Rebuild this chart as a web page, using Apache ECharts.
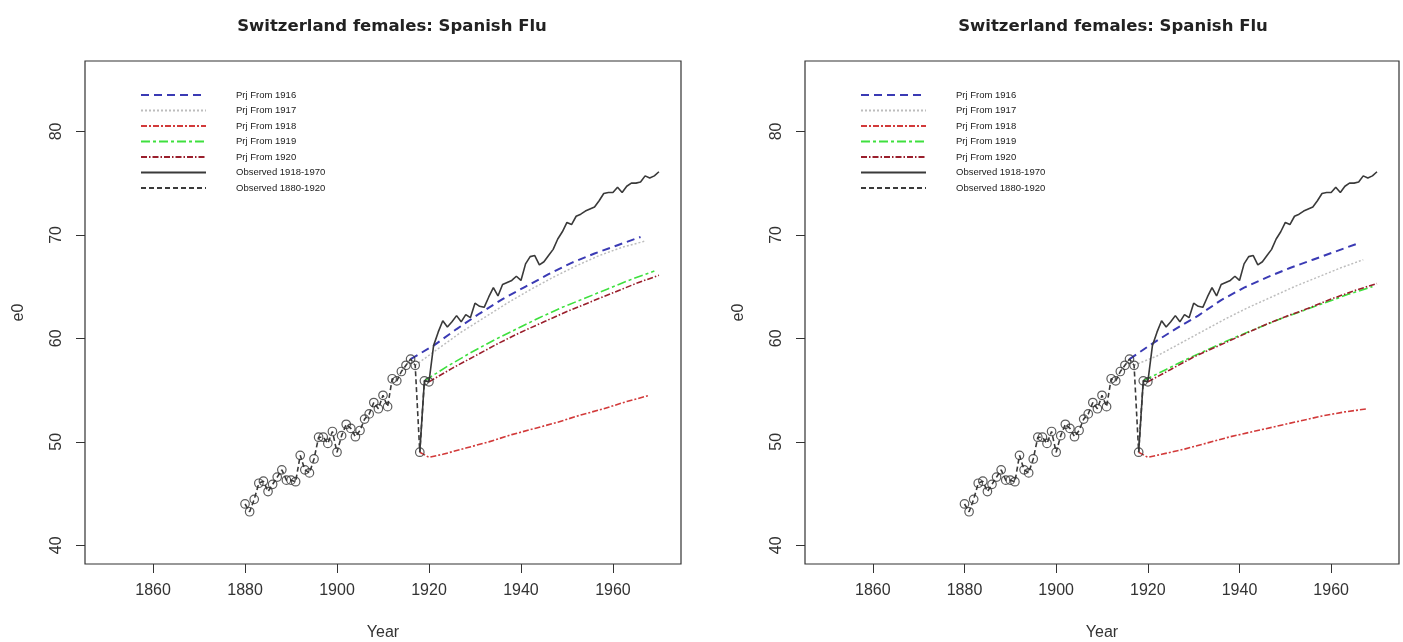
<!DOCTYPE html>
<html>
<head>
<meta charset="utf-8">
<script src="https://cdn.jsdelivr.net/npm/echarts@6/dist/echarts.min.js"></script>
<style>
  html, body { margin: 0; padding: 0; background: #ffffff; }
  #chart { width: 1403px; height: 642px; }
</style>
</head>
<body>
<div id="chart"></div>
<script>
// ---- data -------------------------------------------------------------
const chartTitle = 'Switzerland females: Spanish Flu';
const xTicks = [1860, 1880, 1900, 1920, 1940, 1960];
const yTicks = [40, 50, 60, 70, 80];
const legendNames = ['Prj From 1916', 'Prj From 1917', 'Prj From 1918', 'Prj From 1919',
                     'Prj From 1920', 'Observed 1918-1970', 'Observed 1880-1920'];

// observed female life expectancy at birth, 1880-1920
const obsEarlyStart = 1880;
const obsEarly = [44.0, 43.25, 44.45, 46.0, 46.2, 45.2, 45.9, 46.6, 47.3, 46.3,
                  46.3, 46.15, 48.7, 47.3, 47.0, 48.35, 50.45, 50.45, 49.85, 51.0,
                  49.0, 50.6, 51.7, 51.3, 50.5, 51.1, 52.2, 52.7, 53.8, 53.2,
                  54.5, 53.4, 56.1, 55.9, 56.8, 57.4, 58.0, 57.4, 49.0, 55.9,
                  55.8];
// observed female life expectancy at birth, 1918-1970
const obsLateStart = 1918;
const obsLate = [49.0, 55.9, 55.8, 59.3, 60.6, 61.7, 61.1, 61.6, 62.2, 61.6,
                 62.3, 62.0, 63.4, 63.1, 63.0, 64.0, 64.9, 64.1, 65.2, 65.4,
                 65.6, 66.0, 65.6, 67.2, 67.9, 68.0, 67.1, 67.4, 68.0, 68.6,
                 69.6, 70.3, 71.2, 71.0, 71.8, 72.0, 72.3, 72.5, 72.7, 73.3,
                 74.0, 74.1, 74.1, 74.6, 74.1, 74.7, 75.0, 75.0, 75.1, 75.7,
                 75.5, 75.7, 76.1];

// projection years
const prjYears1916 = [1916, 1921, 1926, 1931, 1936, 1941, 1946, 1951, 1956, 1961, 1966];
const prjYears1917 = [1917, 1922, 1927, 1932, 1937, 1942, 1947, 1952, 1957, 1962, 1967];
const prjYears1918 = [1918, 1920, 1923, 1928, 1933, 1938, 1943, 1948, 1953, 1958, 1963, 1968];
const prjYears1919 = [1919, 1924, 1929, 1934, 1939, 1944, 1949, 1954, 1959, 1964, 1969];
const prjYears1920 = [1920, 1925, 1930, 1935, 1940, 1945, 1950, 1955, 1960, 1965, 1970];

// first panel projections
const leftPrj1916 = [58.0, 59.3, 60.9, 62.4, 63.8, 65.0, 66.2, 67.3, 68.2, 69.0, 69.8];
const leftPrj1917 = [57.4, 59.0, 60.6, 62.0, 63.4, 64.7, 65.9, 67.0, 68.0, 68.8, 69.4];
const leftPrj1918 = [49.0, 48.5, 48.8, 49.4, 50.0, 50.7, 51.3, 51.9, 52.6, 53.2, 53.9, 54.5];
const leftPrj1919 = [55.9, 57.3, 58.6, 59.8, 60.9, 62.0, 63.0, 63.9, 64.8, 65.7, 66.5];
const leftPrj1920 = [55.8, 57.1, 58.3, 59.5, 60.6, 61.6, 62.6, 63.5, 64.4, 65.3, 66.1];

// second panel projections
const rightPrj1916 = [58.0, 59.5, 60.9, 62.2, 63.7, 64.9, 65.9, 66.8, 67.6, 68.4, 69.2];
const rightPrj1917 = [57.4, 58.3, 59.5, 60.7, 61.9, 63.0, 64.0, 65.0, 65.9, 66.8, 67.6];
const rightPrj1918 = [49.0, 48.5, 48.8, 49.3, 49.9, 50.5, 51.0, 51.5, 52.0, 52.5, 52.9, 53.2];
const rightPrj1919 = [55.9, 57.0, 58.1, 59.1, 60.1, 61.0, 61.9, 62.7, 63.5, 64.3, 65.0];
const rightPrj1920 = [55.8, 57.0, 58.2, 59.2, 60.2, 61.2, 62.1, 62.9, 63.8, 64.6, 65.3];

// ---- helpers ----------------------------------------------------------
const pairs = (years, vals) => vals.map((v, i) => [years[i], v]);
const fromStart = (start, vals) => vals.map((v, i) => [start + i, v]);

const AXIS_FONT = 'Liberation Sans, Arial, sans-serif';
const INK = '#333333';

const lineDefs = [
  { name: legendNames[0], color: '#3a3ab4', type: [8, 5], width: 2 },
  { name: legendNames[1], color: '#bdbdbd', type: [2, 2], width: 1.5 },
  { name: legendNames[2], color: '#d23a3a', type: [6, 2, 2, 2], width: 1.6 },
  { name: legendNames[3], color: '#3ee03e', type: [9, 3, 3, 3], width: 1.6 },
  { name: legendNames[4], color: '#9a1f2c', type: [6, 2, 1.5, 2], width: 1.6 }
];

function panelSeries(idx, prj) {
  const out = [];
  const yearsList = [prjYears1916, prjYears1917, prjYears1918, prjYears1919, prjYears1920];
  lineDefs.forEach((d, k) => {
    out.push({
      name: d.name, type: 'line', xAxisIndex: idx, yAxisIndex: idx,
      data: pairs(yearsList[k], prj[k]), showSymbol: false, symbol: 'none',
      lineStyle: { color: d.color, width: d.width, type: d.type },
      itemStyle: { color: d.color }, z: 3
    });
  });
  out.push({
    name: legendNames[5], type: 'line', xAxisIndex: idx, yAxisIndex: idx,
    data: fromStart(obsLateStart, obsLate), showSymbol: false, symbol: 'none',
    lineStyle: { color: '#3a3a3a', width: 1.6, type: 'solid' },
    itemStyle: { color: '#3a3a3a' }, z: 4
  });
  out.push({
    name: legendNames[6], type: 'line', xAxisIndex: idx, yAxisIndex: idx,
    data: fromStart(obsEarlyStart, obsEarly), showSymbol: false, symbol: 'none',
    lineStyle: { color: '#3a3a3a', width: 1.6, type: [5, 3] },
    itemStyle: { color: '#3a3a3a' }, z: 4
  });
  // open circle markers on the 1880-1920 observations
  out.push({
    name: 'obs-points-' + idx, type: 'scatter', xAxisIndex: idx, yAxisIndex: idx,
    data: fromStart(obsEarlyStart, obsEarly), symbol: 'circle', symbolSize: 8.5,
    itemStyle: { color: 'rgba(255,255,255,0)', borderColor: '#333333', borderWidth: 1.2 },
    z: 5
  });
  return out;
}

const grids = [
  { left: 85, top: 61, width: 596, height: 503 },
  { left: 805, top: 61, width: 594, height: 503 }
];

function xAxisFor(i) {
  return {
    gridIndex: i, type: 'value', min: 1845.2, max: 1974.8,
    name: 'Year', nameLocation: 'middle', nameGap: 61,
    nameTextStyle: { color: INK, fontSize: 16, fontFamily: AXIS_FONT },
    axisLine: { show: false },
    axisTick: { show: true, inside: false, length: 9, customValues: xTicks,
                lineStyle: { color: INK, width: 1 } },
    axisLabel: { customValues: xTicks, color: INK, fontSize: 16, fontFamily: AXIS_FONT,
                 margin: 19, formatter: v => String(v) },
    splitLine: { show: false }
  };
}
function yAxisFor(i) {
  return {
    gridIndex: i, type: 'value', min: 38.2, max: 86.8,
    name: 'e0', nameLocation: 'middle', nameGap: 58, nameRotate: 90,
    nameTextStyle: { color: INK, fontSize: 16, fontFamily: AXIS_FONT },
    axisLine: { show: false },
    axisTick: { show: true, inside: false, length: 9, customValues: yTicks,
                lineStyle: { color: INK, width: 1 } },
    axisLabel: { customValues: yTicks, color: INK, fontSize: 16, fontFamily: AXIS_FONT,
                 rotate: 90, margin: 20, formatter: v => String(v) },
    splitLine: { show: false }
  };
}

function legendFor(leftPx) {
  return {
    orient: 'vertical', left: leftPx, top: 90, padding: 0,
    itemWidth: 65, itemHeight: 8, itemGap: 5.5,
    selectedMode: false,
    data: legendNames,
    itemStyle: { color: 'transparent', borderWidth: 0, opacity: 0 },
    textStyle: { fontFamily: 'Liberation Sans Narrow, Arial Narrow, Liberation Sans, sans-serif',
                 fontSize: 9.5, color: '#1a1a1a', padding: [0, 0, 0, 25] }
  };
}

const option = {
  animation: false,
  backgroundColor: '#ffffff',
  title: [
    { text: chartTitle, left: 387, top: 13, textAlign: 'center',
      textStyle: { fontSize: 16.5, fontWeight: 'bold', color: '#222222',
                   fontFamily: 'DejaVu Sans, Liberation Sans, sans-serif' } },
    { text: chartTitle, left: 1108, top: 13, textAlign: 'center',
      textStyle: { fontSize: 16.5, fontWeight: 'bold', color: '#222222',
                   fontFamily: 'DejaVu Sans, Liberation Sans, sans-serif' } }
  ],
  legend: [legendFor(140), legendFor(860)],
  grid: grids.map(g => Object.assign({ show: true, borderColor: INK, borderWidth: 1.2,
                                        backgroundColor: 'transparent',
                                        containLabel: false, outerBoundsMode: 'none' }, g)),
  xAxis: [xAxisFor(0), xAxisFor(1)],
  yAxis: [yAxisFor(0), yAxisFor(1)],
  series: [
    ...panelSeries(0, [leftPrj1916, leftPrj1917, leftPrj1918, leftPrj1919, leftPrj1920]),
    ...panelSeries(1, [rightPrj1916, rightPrj1917, rightPrj1918, rightPrj1919, rightPrj1920])
  ]
};

const chart = echarts.init(document.getElementById('chart'), null, { renderer: 'canvas' });
chart.setOption(option);
</script>
</body>
</html>
